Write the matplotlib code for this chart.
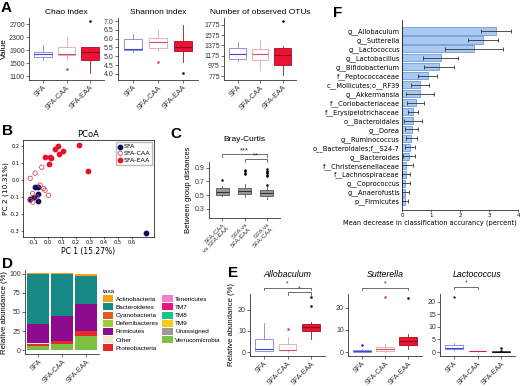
import matplotlib.pyplot as plt
from matplotlib.patches import Patch

plt.rcParams['font.family'] = ['Liberation Sans', 'DejaVu Sans']

W, H = 520, 386

groups = ['SFA', 'SFA-CAA', 'SFA-EAA']

# box stats: (whisker low, q1, median, q3, whisker high, outliers)
chao = [(1590, 1693, 1780, 1847, 2050, []),
        (1600, 1745, 1776, 1981, 2290, [1306]),
        (1200, 1590, 1847, 1997, 1997, [2800])]
shannon = [(5.23, 5.36, 5.42, 5.98, 6.25, []),
           (5.28, 5.45, 5.83, 6.02, 6.47, [4.68]),
           (4.70, 5.30, 5.55, 5.86, 6.75, [4.07])]
otus = [(1060, 1103, 1207, 1330, 1448, []),
        (893, 1089, 1207, 1299, 1481, []),
        (795, 991, 1187, 1318, 1369, [1860])]

# PCoA coordinates
sfa_pc1 = [-0.089, -0.070, -0.070, -0.096, -0.124, -0.070, 0.70]
sfa_pc2 = [-0.040, -0.040, -0.085, -0.100, -0.110, -0.125, -0.31]
caa_pc1 = [-0.042, -0.089, -0.124, -0.054, -0.030, -0.019, 0.005, -0.107, -0.124, -0.105, -0.077]
caa_pc2 = [0.075, 0.040, 0.010, -0.030, -0.050, -0.060, -0.090, -0.080, -0.120, -0.130, -0.100]
eaa_pc1 = [0.224, 0.077, 0.049, 0.112, 0.084, -0.021, 0.014, 0.021, 0.007, 0.287]
eaa_pc2 = [0.206, 0.200, 0.180, 0.170, 0.150, 0.135, 0.135, 0.130, 0.095, 0.050]

# Bray-Curtis between group distances
bc_labels = ['SFA-CAA\nvs SFA-EAA', 'SFA vs\nSFA-EAA', 'SFA vs\nSFA-CAA']
bray = [(0.49, 0.509, 0.549, 0.597, 0.636, [0.72]),
        (0.47, 0.51, 0.56, 0.60, 0.66, [0.81, 0.83, 0.85, 0.87]),
        (0.45, 0.486, 0.524, 0.573, 0.62, [0.655, 0.78, 0.80, 0.82, 0.84, 0.86, 0.88])]

# relative abundance of phyla (%)
taxa = ['Actinobacteria', 'Bacteroidetes', 'Cyanobacteria', 'Deferribacteres',
        'Firmicutes', 'Other', 'Proteobacteria', 'Tenericutes', 'TM7', 'TM8',
        'TM9', 'Unassigned', 'Verrucomicrobia']
taxa_colors = ['#F5A21B', '#178A86', '#E0601A', '#9BCB3C', '#8E0A8E', '#F2E6CC',
               '#E62A2A', '#F07CD0', '#E8157A', '#18C08A', '#F8CC14', '#9A9A9A', '#7CC043']
abund_sfa = [0.3, 65.5, 0.1, 0.2, 25.5, 0.3, 3.0, 0.2, 0.1, 0.1, 0.1, 0.1, 5.0]
abund_caa = [0.4, 55.5, 0.1, 0.3, 32.0, 0.3, 3.5, 0.2, 0.1, 0.1, 0.1, 0.1, 8.0]
abund_eaa = [3.5, 36.0, 0.1, 0.3, 34.5, 0.5, 6.5, 0.2, 0.1, 0.1, 0.1, 0.1, 18.0]

# genera
allobaculum = [(0.3, 0.6, 1.4, 6.4, 13.8, []),
               (0.2, 0.9, 1.2, 3.6, 7.3, [11.0]),
               (6.4, 9.8, 12.0, 13.3, 14.0, [21.9, 26.2])]
sutterella = [(0.0, 0.1, 0.5, 1.0, 1.5, [3.3]),
              (0.0, 0.6, 1.3, 2.5, 3.5, [24.7]),
              (1.3, 3.1, 5.0, 7.0, 8.0, [24.3])]
lactococcus = [(0.8, 1.2, 1.8, 2.7, 3.5, [21.8]),
               (0.0, 0.3, 0.4, 0.6, 0.6, []),
               (0.0, 0.0, 0.1, 0.3, 0.3, [0.6, 1.5])]

# random forest importance
features = ['g__Allobaculum', 'g__Sutterella', 'g__Lactococcus', 'g__Lactobacillus',
            'g__Bifidobacterium', 'f__Peptococcaceae', 'c__Mollicutes;o__RF39',
            'g__Akkermansia', 'f__Coriobacteriaceae', 'f__Erysipelotrichaceae',
            'o__Bacteroidales', 'g__Dorea', 'g__Ruminococcus', 'o__Bacteroidales;f__S24-7',
            'g__Bacteroides', 'f__Christensenellaceae', 'f__Lachnospiraceae',
            'g__Coprococcus', 'g__Anaerofustis', 'p__Firmicutes']
importance = [3.24, 2.79, 2.48, 1.33, 1.28, 0.88, 0.62, 0.62, 0.47, 0.38,
              0.38, 0.33, 0.32, 0.29, 0.25, 0.15, 0.13, 0.11, 0.11, 0.09]
importance_err = [0.52, 0.51, 1.0, 0.6, 0.52, 0.32, 0.3, 0.47, 0.29, 0.16,
                  0.3, 0.23, 0.19, 0.17, 0.21, 0.22, 0.13, 0.15, 0.14, 0.13]

box_styles = [dict(face='white', edge='#8080E0', med='#4545C8', flier='#22228F'),
              dict(face='white', edge='#E2A4AE', med='#D24E62', flier='#E0305A'),
              dict(face='#EE1133', edge='#A0101E', med='#8A0A18', flier='black')]

fig = plt.figure(figsize=(5.2, 3.86), dpi=100)


def add_ax(x0, y0, x1, y1):
    return fig.add_axes([x0 / W, 1 - y1 / H, (x1 - x0) / W, (y1 - y0) / H])


def gg_style(ax):
    for s in ['top', 'right']:
        ax.spines[s].set_visible(False)
    for s in ['left', 'bottom']:
        ax.spines[s].set_linewidth(0.6)
        ax.spines[s].set_color('#333333')
    ax.tick_params(length=2, width=0.5, labelsize=5, pad=1, colors='#333333')


def draw_boxes(ax, stats, styles, width=0.75):
    for i, (st, sty) in enumerate(zip(stats, styles)):
        lo, q1, med, q3, hi, fl = st
        d = dict(whislo=lo, q1=q1, med=med, q3=q3, whishi=hi, fliers=fl)
        ax.bxp([d], positions=[i + 1], widths=width, patch_artist=True,
               showcaps=False, manage_ticks=False,
               boxprops=dict(facecolor=sty['face'], edgecolor=sty['edge'], linewidth=0.6),
               whiskerprops=dict(color=sty['edge'], linewidth=0.6),
               medianprops=dict(color=sty['med'], linewidth=0.8),
               flierprops=dict(marker='o', markersize=1.8, markerfacecolor=sty['flier'],
                               markeredgecolor='none'))
    ax.set_xlim(0.4, 3.6)


def group_ticks(ax, labels, size=5.2):
    ax.set_xticks(range(1, len(labels) + 1))
    ax.set_xticklabels(labels, rotation=45, ha='right', rotation_mode='anchor', fontsize=size)


def bracket(ax, x1, x2, y, h, star, size=5.5):
    ax.plot([x1, x1, x2, x2], [y - h, y, y, y - h], color='#333333', lw=0.5, clip_on=False)
    ax.text((x1 + x2) / 2, y, star, ha='center', va='bottom', fontsize=size, color='#333333',
            linespacing=0.8)


def letter(x, y, s):
    fig.text(x / W, 1 - y / H, s, ha='left', va='top', fontsize=11, fontweight='bold')


# ---- A
for (x0, x1), stats, title, lims, ticks in [
        ((29, 104), chao, 'Chao index', (977, 2885), [1100, 1500, 1900, 2300, 2700]),
        ((118, 198), shannon, 'Shannon index', (3.66, 7.17), [4.0, 4.5, 5.0, 5.5, 6.0, 6.5, 7.0]),
        ((224, 296), otus, 'Number of observed OTUs', (697, 1912), [775, 975, 1175, 1375, 1575, 1775])]:
    ax = add_ax(x0, 18, x1, 80)
    gg_style(ax)
    draw_boxes(ax, stats, box_styles)
    ax.set_ylim(*lims)
    ax.set_yticks(ticks)
    if isinstance(ticks[0], float):
        ax.set_yticklabels(['%.1f' % t for t in ticks])
    group_ticks(ax, groups)
    ax.set_title(title, fontsize=6, pad=3)
    if title == 'Chao index':
        ax.set_ylabel('Value', fontsize=6, labelpad=1)

# ---- B
ax = add_ax(23, 140, 154, 237)
ax.scatter(sfa_pc1, sfa_pc2, s=10, color='#0D0D5E', label='SFA')
ax.scatter(caa_pc1, caa_pc2, s=10, facecolors='none', edgecolors='#D24E62', linewidths=0.6, label='SFA-CAA')
ax.scatter(eaa_pc1, eaa_pc2, s=10, color='#E8112D', label='SFA-EAA')
ax.set_xlim(-0.175, 0.755)
ax.set_ylim(-0.335, 0.235)
ax.set_xticks([-0.1, 0.0, 0.1, 0.2, 0.3, 0.4, 0.5, 0.6])
ax.set_yticks([-0.3, -0.2, -0.1, 0.0, 0.1, 0.2])
ax.set_xticklabels(['-0.1', '0.0', '0.1', '0.2', '0.3', '0.4', '0.5', '0.6'])
ax.set_yticklabels(['-0.3', '-0.2', '-0.1', '0.0', '0.1', '0.2'])
ax.tick_params(length=1.5, width=0.4, labelsize=3.6, pad=1)
for sp in ax.spines.values():
    sp.set_linewidth(0.5)
for t in ax.get_xticklabels() + ax.get_yticklabels():
    t.set_family('DejaVu Sans')
ax.set_title('PCoA', fontsize=6, family='DejaVu Sans', pad=2)
ax.set_xlabel('PC 1 (15.27%)', fontsize=5.5, family='DejaVu Sans', labelpad=1)
ax.set_ylabel('PC 2 (10.31%)', fontsize=5.3, family='DejaVu Sans', labelpad=0.5)
ax.legend(loc='upper right', prop=dict(family='DejaVu Sans', size=4.6), handletextpad=0.1,
          handlelength=0.8, borderpad=0.3, labelspacing=0.2, borderaxespad=0.3,
          fancybox=False, edgecolor='#BBBBBB', framealpha=1)

# ---- C
ax = add_ax(209, 162, 280, 218)
gg_style(ax)
gray = [dict(face='#9A9A9A', edge='#555555', med='#333333', flier='black')] * 3
draw_boxes(ax, bray, gray, width=0.6)
ax.set_ylim(0.165, 0.985)
ax.set_yticks([0.3, 0.5, 0.7, 0.9])
group_ticks(ax, bc_labels, size=4.5)
ax.set_ylabel('Between group distances', fontsize=5.5, labelpad=2)
ax.set_title('Bray-Curtis', fontsize=6, pad=15)
bracket(ax, 1, 3, 1.10, 0.04, '***')
bracket(ax, 2, 3, 1.03, 0.04, '**')

# ---- D
ax = add_ax(25, 270, 99, 354)
gg_style(ax)
pos = [1, 2, 3]
bottoms = [0.0, 0.0, 0.0]
for k in range(len(taxa) - 1, -1, -1):
    vals = [abund_sfa[k], abund_caa[k], abund_eaa[k]]
    ax.bar(pos, vals, width=0.95, bottom=bottoms, color=taxa_colors[k], linewidth=0)
    bottoms = [b + v for b, v in zip(bottoms, vals)]
ax.set_xlim(0.45, 3.55)
ax.set_ylim(-5, 105)
ax.set_yticks([0, 25, 50, 75, 100])
group_ticks(ax, groups, size=5)
ax.set_ylabel('Relative abundance (%)', fontsize=5.6, labelpad=1)
handles = [Patch(facecolor=c, edgecolor='none') for c in taxa_colors]
ax.legend(handles, taxa, ncol=2, loc='upper left', bbox_to_anchor=(100 / W, 1 - 286 / H),
          bbox_transform=fig.transFigure, title='taxa', fontsize=4.6, title_fontsize=4.6,
          frameon=False, handlelength=1.6, handleheight=1.3, labelspacing=0.18,
          columnspacing=0.5, handletextpad=0.4, alignment='left', borderpad=0)

# ---- E
for (x0, x1), stats, title, lims, ticks, brackets in [
        ((250, 325), allobaculum, 'Allobaculum', (-1.86, 27.44), [0, 10, 20],
         [(1, 3, 30.5, 1.2), (2, 3, 28.2, 1.2)]),
        ((348, 422), sutterella, 'Sutterella', (-1.78, 26.2), [0, 10, 20],
         [(1, 3, 29.0, 1.2)]),
        ((440, 515), lactococcus, 'Lactococcus', (-1.57, 23.1), [0, 5, 10, 15, 20],
         [(1, 2, 26.0, 1.1)])]:
    ax = add_ax(x0, 294, x1, 356)
    gg_style(ax)
    sty = box_styles
    if title == 'Lactococcus':
        sty = [box_styles[0],
               dict(face='white', edge='#E2A4AE', med='#E8112D', flier='#E0305A'),
               dict(face='white', edge='#333333', med='#111111', flier='black')]
    draw_boxes(ax, stats, sty)
    ax.set_ylim(*lims)
    ax.set_yticks(ticks)
    group_ticks(ax, groups, size=5)
    ax.set_title(title, fontsize=6.3, style='italic', pad=12.5)
    for x1b, x2b, yb, hb in brackets:
        bracket(ax, x1b, x2b, yb, hb, '*', size=5)
    if title == 'Allobaculum':
        ax.set_ylabel('Relative abundance (%)', fontsize=5.6, labelpad=2)

# ---- F
ax = add_ax(402, 20, 518, 210)
ypos = list(range(len(features)))
ax.barh(ypos, importance, height=0.8, color='#A9C9F1', edgecolor='#5B8BD2', linewidth=0.5,
        xerr=importance_err, error_kw=dict(ecolor='#333333', elinewidth=0.6, capsize=1.2, capthick=0.6))
ax.set_yticks(ypos)
ax.set_yticklabels(features, fontsize=4.8, family='DejaVu Sans')
ax.set_xlim(0, 4)
ax.set_ylim(len(features), -1.23)
ax.set_xticks([0, 1, 2, 3, 4])
ax.tick_params(axis='x', length=1.5, width=0.4, labelsize=4, pad=1)
ax.tick_params(axis='y', length=0, pad=1.5)
for t in ax.get_xticklabels():
    t.set_family('DejaVu Sans')
for s in ['top', 'right']:
    ax.spines[s].set_visible(False)
for s in ['left', 'bottom']:
    ax.spines[s].set_linewidth(0.5)
ax.set_xlabel('Mean decrease in classification accurancy (percent)', fontsize=4.8,
              family='DejaVu Sans')
ax.xaxis.set_label_coords(0.24, -0.05)

letter(1, 1, 'A')
letter(2, 124, 'B')
letter(170, 127, 'C')
letter(2, 257, 'D')
letter(228, 266, 'E')
letter(333, 6, 'F')

fig.savefig('out.png', dpi=100)
